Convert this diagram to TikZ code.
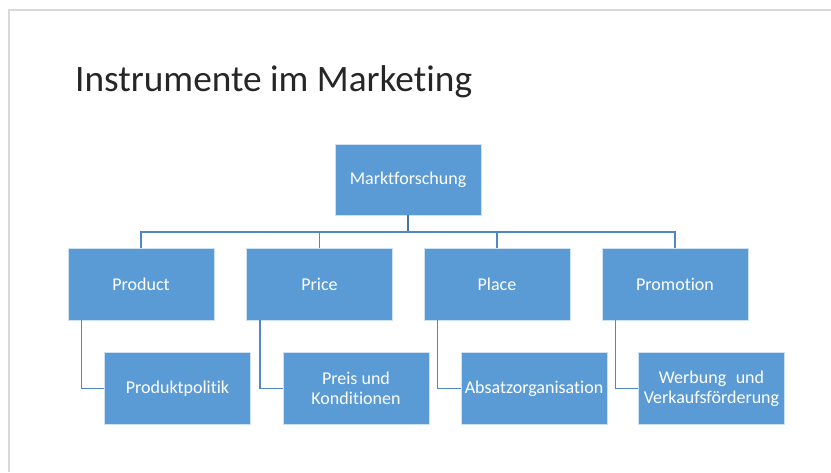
\documentclass[tikz,border=0pt]{standalone}
\usepackage{fontspec}
\setmainfont{Carlito}[Ligatures=NoCommon]
\definecolor{boxblue}{HTML}{5B9BD5}
\definecolor{lineblue}{HTML}{5087C7}
\definecolor{slidegray}{HTML}{D9D9D9}
\definecolor{titlegray}{HTML}{262626}
\begin{document}
\begin{tikzpicture}[x=1pt,y=-1pt,
  orgbox/.style={draw=white!70!boxblue, line width=0.8pt, fill=boxblue, text=white,
    minimum width=146pt, minimum height=72pt, inner sep=1pt, align=center,
    font=\fontsize{18}{20}\selectfont},
  link/.style={draw=lineblue, line width=1.4pt}]
\useasboundingbox (0,0) rectangle (831,472);
\fill[white] (0,0) rectangle (831,472);
\draw[slidegray, line width=2pt] (9,472) -- (9,10) -- (831,10);
\node[anchor=base west, text=titlegray, font=\fontsize{37.3}{40}\selectfont, inner sep=0pt] (title) at (75,91) {Instrumente im Marketing};
\node[orgbox, minimum width=146pt, minimum height=71pt] (m) at (408,179.5) {Marktforschung};
\node[orgbox] (p1) at (141,284) {Product};
\node[orgbox] (p2) at (319.5,284) {Price};
\node[orgbox] (p3) at (497,284) {Place};
\node[orgbox] (p4) at (675,284) {Promotion};
\node[orgbox] (c1) at (177.5,388.5) {Produktpolitik};
\node[orgbox] (c2) at (356,388.5) {Preis und\\Konditionen};
\node[orgbox] (c3) at (534,388.5) {Absatzorganisation};
\node[orgbox] (c4) at (711.5,388.5) {Werbung\hspace{0.3em} und\\Verkaufsförderung};
\coordinate (bus) at (408,232);
\draw[link, draw=lineblue!85!black] (m.south) -- (bus);
\draw[link] (p1.north) |- (bus) -| (p4.north);
\draw[link] (p2.north) -- (p2.north |- bus);
\draw[link] (p3.north) -- (p3.north |- bus);
\draw[link] ([xshift=14pt]p1.south west) |- (c1.west);
\draw[link] ([xshift=14pt]p2.south west) |- (c2.west);
\draw[link] ([xshift=14pt]p3.south west) |- (c3.west);
\draw[link] ([xshift=14pt]p4.south west) |- (c4.west);
\end{tikzpicture}
\end{document}
